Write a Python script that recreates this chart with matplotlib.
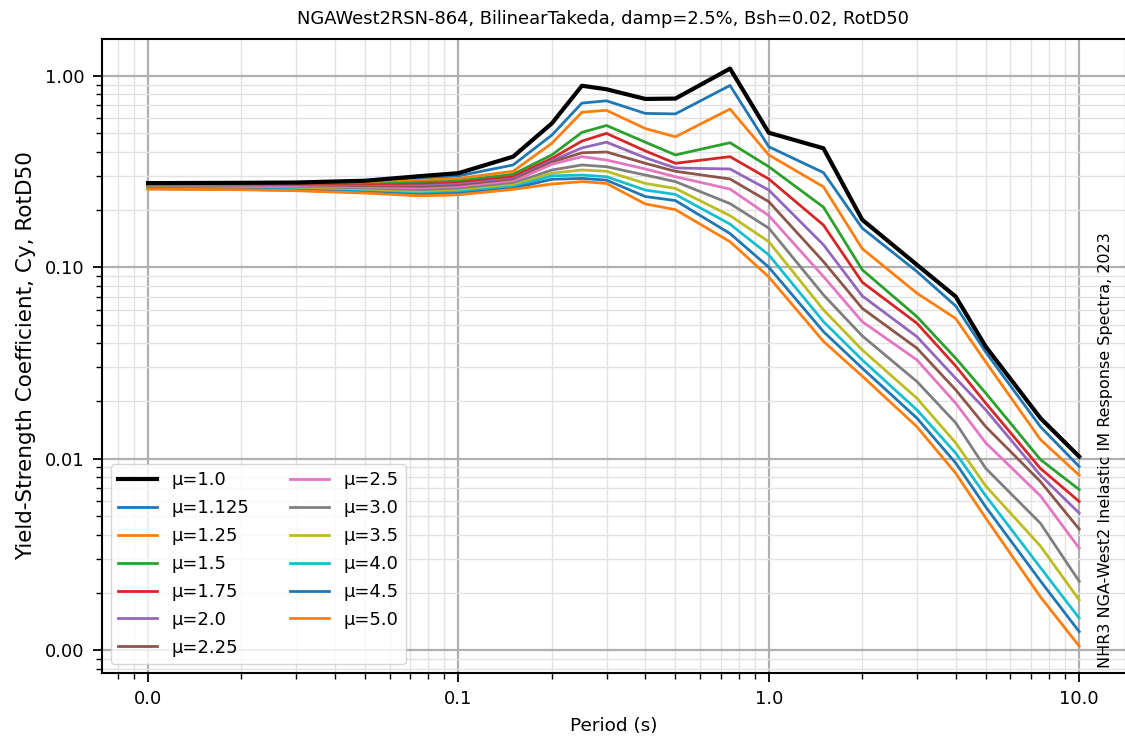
import matplotlib
matplotlib.use("Agg")
import matplotlib.pyplot as plt
from matplotlib.ticker import FormatStrFormatter

periods = [0.01, 0.02, 0.03, 0.05, 0.075, 0.1, 0.15, 0.2, 0.25, 0.3, 0.4, 0.5,
           0.75, 1.0, 1.5, 2.0, 3.0, 4.0, 5.0, 7.5, 10.0]

mu_labels = ["μ=1.0", "μ=1.125", "μ=1.25", "μ=1.5", "μ=1.75", "μ=2.0", "μ=2.25",
             "μ=2.5", "μ=3.0", "μ=3.5", "μ=4.0", "μ=4.5", "μ=5.0"]

cy_mu_1_0 = [0.275, 0.276, 0.277, 0.283, 0.299, 0.310, 0.378, 0.564, 0.887, 0.850, 0.757, 0.760,
             1.090, 0.504, 0.418, 0.177, 0.103, 0.0703, 0.0385, 0.0163, 0.01026]
cy_mu_1_125 = [0.273, 0.274, 0.275, 0.279, 0.291, 0.300, 0.342, 0.490, 0.720, 0.740, 0.636, 0.632,
               0.890, 0.426, 0.312, 0.160, 0.095, 0.0628, 0.0360, 0.0147, 0.0091]
cy_mu_1_25 = [0.271, 0.272, 0.273, 0.276, 0.284, 0.291, 0.317, 0.444, 0.645, 0.660, 0.530, 0.480,
              0.670, 0.386, 0.263, 0.125, 0.0732, 0.0540, 0.0320, 0.0126, 0.0082]
cy_mu_1_5 = [0.269, 0.269, 0.270, 0.271, 0.277, 0.282, 0.306, 0.386, 0.506, 0.550, 0.450, 0.386,
             0.447, 0.335, 0.206, 0.097, 0.0552, 0.0335, 0.0220, 0.0099, 0.0069]
cy_mu_1_75 = [0.267, 0.267, 0.267, 0.267, 0.271, 0.276, 0.297, 0.370, 0.456, 0.500, 0.405, 0.349,
              0.378, 0.289, 0.166, 0.0835, 0.0510, 0.0305, 0.0195, 0.0089, 0.00598]
cy_mu_2_0 = [0.266, 0.266, 0.265, 0.264, 0.266, 0.271, 0.289, 0.360, 0.420, 0.450, 0.373, 0.330,
             0.326, 0.253, 0.131, 0.0708, 0.0434, 0.0263, 0.0180, 0.0082, 0.0052]
cy_mu_2_25 = [0.264, 0.264, 0.263, 0.261, 0.261, 0.266, 0.285, 0.354, 0.396, 0.400, 0.349, 0.317,
              0.289, 0.220, 0.107, 0.0610, 0.0378, 0.0229, 0.0147, 0.0076, 0.00429]
cy_mu_2_5 = [0.263, 0.262, 0.261, 0.258, 0.256, 0.261, 0.280, 0.345, 0.378, 0.363, 0.326, 0.297,
             0.256, 0.186, 0.0894, 0.0520, 0.0328, 0.0195, 0.0121, 0.0064, 0.00341]
cy_mu_3_0 = [0.261, 0.260, 0.258, 0.254, 0.251, 0.256, 0.274, 0.322, 0.342, 0.335, 0.303, 0.280,
             0.215, 0.160, 0.0717, 0.0438, 0.0253, 0.0154, 0.0089, 0.0046, 0.00229]
cy_mu_3_5 = [0.259, 0.258, 0.256, 0.251, 0.246, 0.251, 0.268, 0.310, 0.322, 0.317, 0.274, 0.258,
             0.186, 0.136, 0.0599, 0.0370, 0.0207, 0.0121, 0.0072, 0.0035, 0.00183]
cy_mu_4_0 = [0.258, 0.257, 0.254, 0.248, 0.242, 0.247, 0.263, 0.300, 0.303, 0.297, 0.253, 0.240,
             0.168, 0.116, 0.0520, 0.0328, 0.0180, 0.0107, 0.0064, 0.0027, 0.00147]
cy_mu_4_5 = [0.257, 0.255, 0.252, 0.246, 0.239, 0.243, 0.258, 0.288, 0.291, 0.285, 0.234, 0.223,
             0.150, 0.100, 0.0461, 0.0297, 0.0163, 0.0095, 0.0056, 0.0023, 0.00125]
cy_mu_5_0 = [0.256, 0.254, 0.251, 0.244, 0.236, 0.239, 0.255, 0.272, 0.280, 0.274, 0.214, 0.200,
             0.136, 0.089, 0.0410, 0.0270, 0.0147, 0.0084, 0.0049, 0.0019, 0.00105]

series = [cy_mu_1_0, cy_mu_1_125, cy_mu_1_25, cy_mu_1_5, cy_mu_1_75, cy_mu_2_0, cy_mu_2_25,
          cy_mu_2_5, cy_mu_3_0, cy_mu_3_5, cy_mu_4_0, cy_mu_4_5, cy_mu_5_0]

title = "NGAWest2RSN-864, BilinearTakeda, damp=2.5%, Bsh=0.02, RotD50"
note = "NHR3 NGA-West2 Inelastic IM Response Spectra, 2023"

plt.rcParams['font.family'] = ['DejaVu Sans']
fig = plt.figure(figsize=(11.25, 7.44), dpi=100)
ax = fig.add_axes([101.5 / 1125, 1 - 673 / 744, (1125.5 - 101.5) / 1125, (673 - 39) / 744])

tab = plt.rcParams['axes.prop_cycle'].by_key()['color']
for i, (lab, vals) in enumerate(zip(mu_labels, series)):
    if i == 0:
        ax.plot(periods, vals, color='black', lw=3.0, label=lab, zorder=5)
    else:
        ax.plot(periods, vals, color=tab[(i - 1) % 10], lw=2.0, label=lab)

ax.set_xscale('log')
ax.set_yscale('log')
ax.set_xlim(0.00708, 14.1)
ax.set_ylim(0.00076, 1.556)
ax.xaxis.set_major_formatter(FormatStrFormatter('%.1f'))
ax.yaxis.set_major_formatter(FormatStrFormatter('%.2f'))
ax.xaxis.set_minor_formatter(plt.NullFormatter())
ax.yaxis.set_minor_formatter(plt.NullFormatter())
ax.grid(True, which='major', color='#b0b0b0', lw=1.6)
ax.grid(True, which='minor', color='#e2e2e2', lw=1.0)
ax.set_axisbelow(True)
ax.tick_params(axis='both', which='major', labelsize=13, length=6.5, width=1.3, pad=6)
ax.tick_params(axis='both', which='minor', length=4.5, width=1.0)
for s in ax.spines.values():
    s.set_linewidth(1.5)

ax.set_xlabel("Period (s)", fontsize=13.3, labelpad=6)
ax.set_ylabel("Yield-Strength Coefficient, Cy, RotD50", fontsize=15.5, labelpad=6)
ax.set_title(title, fontsize=12.9, pad=11, x=0.49)
ax.text(0.973, 0.008, note, transform=ax.transAxes,
        rotation=90, ha='left', va='bottom', fontsize=11.5)

leg = ax.legend(loc='lower left', ncol=2, fontsize=13, framealpha=0.8,
                handlelength=2.2, handletextpad=0.8, columnspacing=2.2,
                labelspacing=0.55)

fig.savefig("out.png", dpi=100)
